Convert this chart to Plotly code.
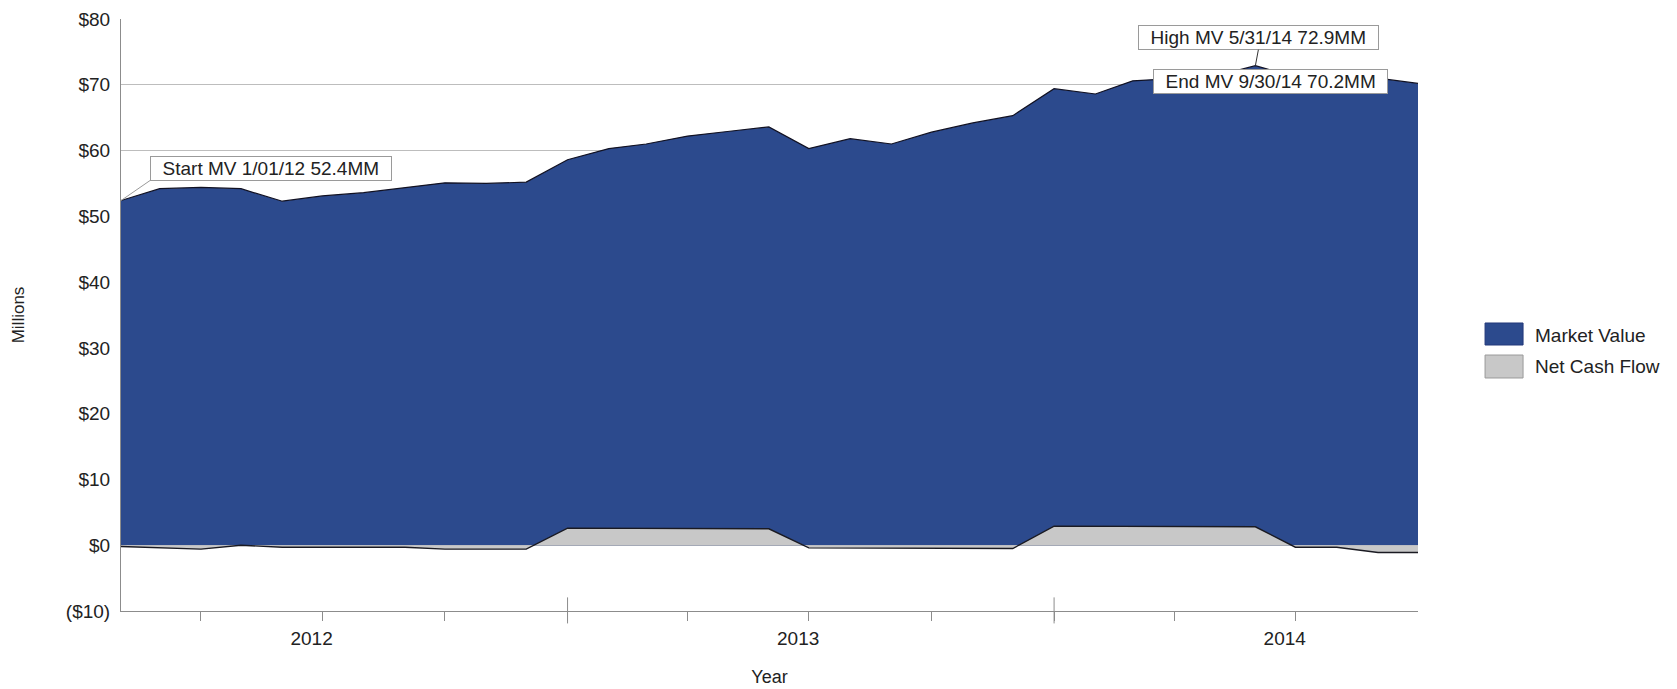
import pandas as pd
import plotly.graph_objects as go

# Month-end valuation dates, Jan 2012 through Sep 2014
dates = pd.date_range("2012-01-31", periods=33, freq=pd.offsets.MonthEnd()).strftime("%Y-%m-%d").tolist()

# Market value of the portfolio ($ millions)
market_value = [
    52.4, 54.2, 54.4, 54.2, 52.3, 53.1, 53.6, 54.4, 55.1, 55.0, 55.2, 58.6,
    60.3, 61.0, 62.2, 62.9, 63.6, 60.3, 61.8, 61.0, 62.8, 64.2, 65.3, 69.4,
    68.6, 70.6, 71.0, 71.3, 72.9, 71.2, 71.1, 71.0, 70.2,
]

# Net cash flow ($ millions)
net_cash_flow = [
    -0.2, -0.4, -0.6, 0.0, -0.3, -0.3, -0.3, -0.3, -0.6, -0.6, -0.6, 2.6,
    2.6, 2.6, 2.6, 2.5, 2.5, -0.4, -0.4, -0.4, -0.4, -0.4, -0.5, 2.9,
    2.9, 2.9, 2.8, 2.8, 2.8, -0.3, -0.3, -1.1, -1.1,
]

# Axis ticks and labels
y_tick_vals = [-10, 0, 10, 20, 30, 40, 50, 60, 70, 80]
y_tick_text = ["($10)", "$0", "$10", "$20", "$30", "$40", "$50", "$60", "$70", "$80"]
quarter_ticks = ["2012-03-31", "2012-06-30", "2012-09-30", "2012-12-31",
                 "2013-03-31", "2013-06-30", "2013-09-30", "2013-12-31",
                 "2014-03-31", "2014-06-30"]
year_breaks = ["2012-12-31", "2013-12-31"]
year_label_pos = ["2012-06-22", "2013-06-22", "2014-06-22"]
year_labels = ["2012", "2013", "2014"]

# Callout points
start_date, start_mv = "1/01/12", market_value[0]
high_idx = market_value.index(max(market_value))
end_idx = len(market_value) - 1

FONT = "Liberation Sans, Arial, sans-serif"
TEXT = "#222222"
BLUE = "#2C4A8D"
GREY = "#C8C8C8"

fig = go.Figure()
fig.add_trace(go.Scatter(
    x=dates, y=market_value, name="Market Value", mode="lines",
    fill="tozeroy", fillcolor=BLUE, line=dict(color="#111122", width=1.2),
    showlegend=False,
))
fig.add_trace(go.Scatter(
    x=dates, y=net_cash_flow, name="Net Cash Flow", mode="lines",
    fill="tozeroy", fillcolor=GREY, line=dict(color="#1a1a22", width=1.4),
    showlegend=False,
))

# Taller tick marks at year boundaries (cross the axis line)
shapes = []
for d in year_breaks:
    shapes.append(dict(type="line", xref="x", yref="paper", x0=d, x1=d,
                       y0=-0.021, y1=0.023, line=dict(color="#8c8c8c", width=1)))

# Legend swatches
legend_items = [("Market Value", BLUE, "#23397a", 0.4865, 0.4493, 0.4662),
                ("Net Cash Flow", GREY, "#9a9a9a", 0.4324, 0.3936, 0.4122)]
annotations = []
for label, fc, lc, top, bot, ty in legend_items:
    shapes.append(dict(type="rect", xref="paper", yref="paper",
                       x0=1.0517, x1=1.081, y0=bot, y1=top,
                       fillcolor=fc, line=dict(color=lc, width=1)))
    annotations.append(dict(xref="paper", yref="paper", x=1.0887, y=ty,
                            xanchor="left", yanchor="middle", showarrow=False,
                            text=label, font=dict(family=FONT, size=19, color=TEXT)))

box = dict(bordercolor="#9a9a9a", borderwidth=1, borderpad=1, bgcolor="white",
           font=dict(family=FONT, size=19, color=TEXT))
nb = "\u00a0\u00a0"
annotations.append(dict(
    x=dates[0], y=start_mv, xref="x", yref="y",
    text=f"{nb}Start MV {start_date} {start_mv}MM{nb}",
    showarrow=True, arrowhead=0, arrowwidth=1, arrowcolor="#9a9a9a",
    ax=29, ay=-20, xanchor="left", yanchor="bottom", **box))
annotations.append(dict(
    x=dates[high_idx], y=market_value[high_idx], xref="x", yref="y",
    text=f"{nb}High MV 5/31/14 {market_value[high_idx]}MM{nb}",
    showarrow=True, arrowhead=0, arrowwidth=1, arrowcolor="#333333",
    ax=3, ay=-16, xanchor="center", yanchor="bottom", **box))
annotations.append(dict(
    x=dates[end_idx], y=market_value[end_idx], xref="x", yref="y",
    text=f"{nb}End MV 9/30/14 {market_value[end_idx]}MM{nb}",
    showarrow=False, xanchor="right", yanchor="middle", xshift=-30, yshift=2, **box))

fig.update_layout(
    width=1677, height=689, autosize=False,
    margin=dict(l=121, r=259, t=19, b=78),
    paper_bgcolor="white", plot_bgcolor="white",
    font=dict(family=FONT, size=19, color=TEXT),
    shapes=shapes, annotations=annotations,
    xaxis=dict(
        type="date", range=[dates[0], dates[-1]], automargin=False,
        tickmode="array", tickvals=year_label_pos, ticktext=year_labels,
        ticks="", ticklabelstandoff=10,
        showline=True, linecolor="#8c8c8c", linewidth=1,
        showgrid=False, zeroline=False,
        minor=dict(tickmode="array", tickvals=quarter_ticks, ticks="outside",
                   ticklen=9, tickcolor="#8c8c8c", tickwidth=1, showgrid=False),
        title=dict(text="Year", font=dict(family=FONT, size=18, color=TEXT), standoff=22),
    ),
    yaxis=dict(
        range=[-10, 80], automargin=False,
        tickmode="array", tickvals=y_tick_vals, ticktext=y_tick_text,
        ticks="", ticklabelstandoff=6,
        showline=True, linecolor="#8c8c8c", linewidth=1,
        showgrid=True, gridcolor="#bdbdbd", gridwidth=1, zeroline=False,
        title=dict(text="Millions", font=dict(family=FONT, size=17, color=TEXT), standoff=36),
    ),
)

fig.write_html("out.html")
